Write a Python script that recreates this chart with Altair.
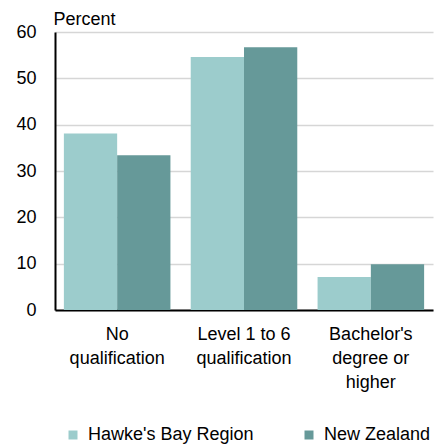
import altair as alt
import pandas as pd
import json

categories = ["No qualification", "Level 1 to 6 qualification", "Bachelor's degree or higher"]
category_lines = [["No", "qualification"], ["Level 1 to 6", "qualification"], ["Bachelor's", "degree or", "higher"]]
series = ["Hawke's Bay Region", "New Zealand"]
hawkes_bay = [38.1, 54.6, 7.1]
new_zealand = [33.4, 56.7, 9.9]
colors = ["#9ccccc", "#669999"]
y_ticks = [0, 10, 20, 30, 40, 50, 60]

rows = []
for c, hb, nz in zip(categories, hawkes_bay, new_zealand):
    rows.append({"category": c, "series": series[0], "value": hb})
    rows.append({"category": c, "series": series[1], "value": nz})
df = pd.DataFrame(rows)

expr = "datum.value"
for c, l in zip(categories, category_lines):
    expr = f"datum.value == {json.dumps(c)} ? {json.dumps(l)} : ({expr})"

FONT = "Liberation Sans"

chart = alt.Chart(df).mark_bar().encode(
    x=alt.X("category:N", sort=categories,
            scale=alt.Scale(paddingInner=0.16, paddingOuter=0.07),
            axis=alt.Axis(title=None, labelAngle=0, labelExpr=expr, ticks=False, tickSize=0,
                          labelPadding=15, labelLineHeight=24, labelFontSize=18,
                          labelFont=FONT, labelColor="#000", domainColor="#000",
                          domainWidth=2, grid=False, labelBaseline="top")),
    xOffset=alt.XOffset("series:N", sort=series, scale=alt.Scale(paddingInner=0, paddingOuter=0)),
    y=alt.Y("value:Q", scale=alt.Scale(domain=[0, 60], nice=False),
            axis=alt.Axis(values=y_ticks, title="Percent", titleAngle=0, titleX=-2, titleY=-8,
                          titleAlign="left", titleBaseline="alphabetic", titleFontSize=18,
                          titleFont=FONT, titleFontWeight="normal", titleColor="#000",
                          ticks=False, tickSize=0, labelPadding=19, labelFontSize=18,
                          labelFont=FONT, labelColor="#000", domainColor="#000", domainWidth=2,
                          gridColor="#d6d6d6", gridWidth=1.5)),
    color=alt.Color("series:N", sort=series,
                    scale=alt.Scale(domain=series, range=colors),
                    legend=alt.Legend(title=None, orient="none", legendX=9, legendY=394,
                                      direction="horizontal", columns=2, columnPadding=46,
                                      symbolType="square", symbolSize=81, symbolStrokeWidth=0,
                                      labelFontSize=18, labelFont=FONT, labelColor="#000",
                                      labelOffset=6, labelLimit=0)),
).properties(
    width=378, height=278,
    autosize=alt.AutoSizeParams(type="none"),
    padding={"left": 47, "top": 24, "right": 6, "bottom": 136},
).configure_view(stroke=None)

chart.save("out.html", embed_options={"renderer": "svg", "actions": False})
